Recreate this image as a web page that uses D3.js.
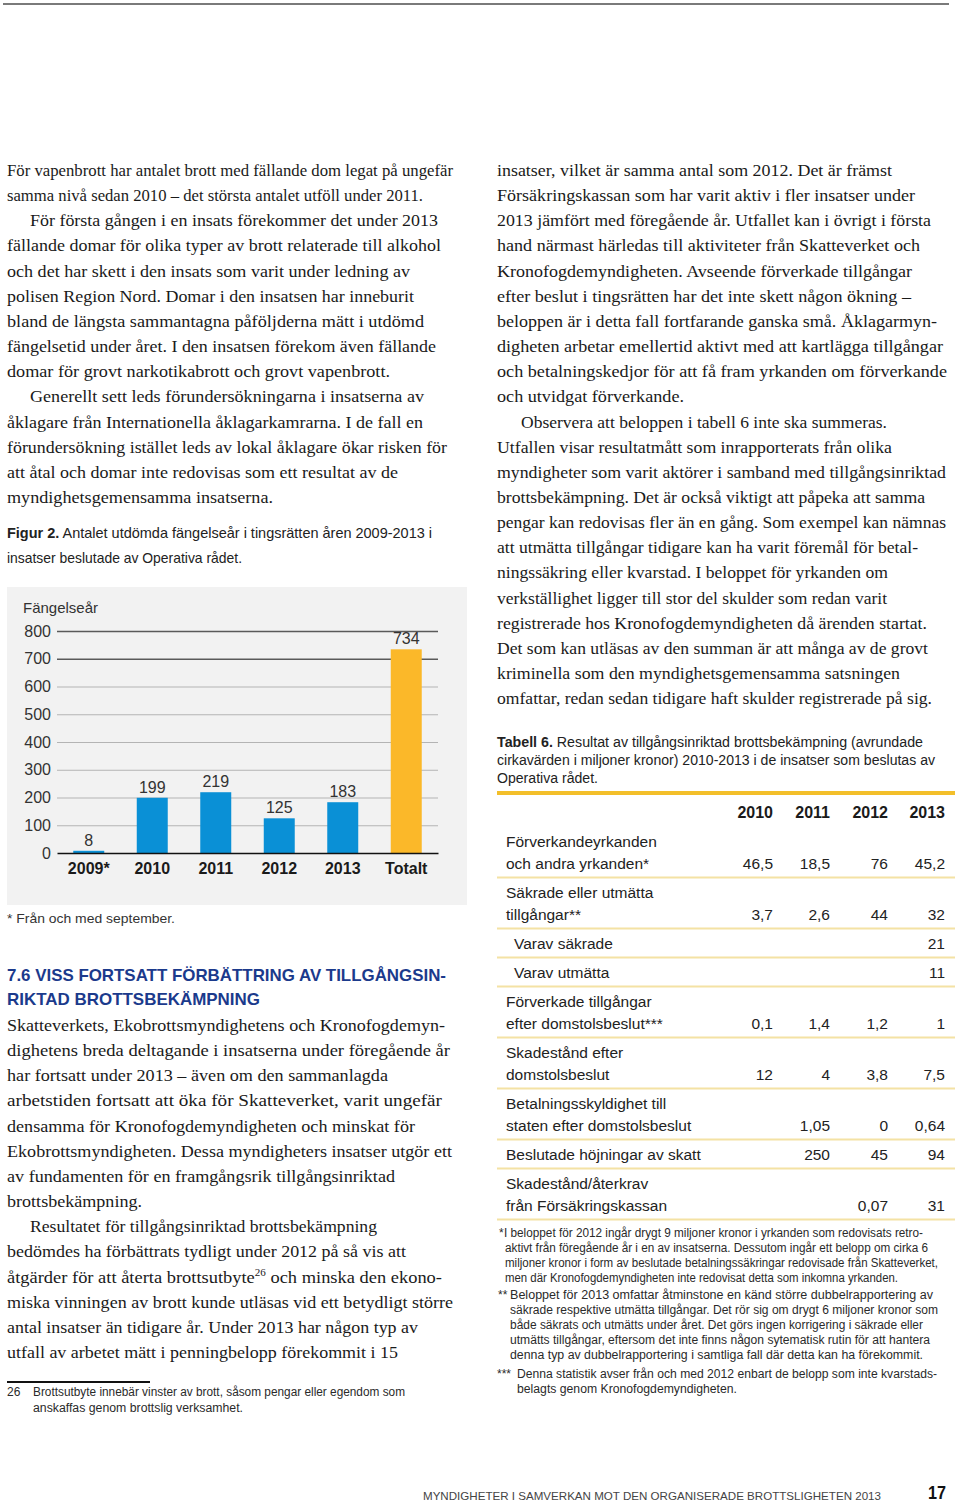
<!DOCTYPE html>
<html><head><meta charset="utf-8">
<script src="https://cdn.jsdelivr.net/npm/d3@7"></script>
<style>html,body{margin:0;padding:0;background:#fff}svg{display:block}</style>
</head><body>
<script>
// ---------------- chart data (Figur 2) ----------------
const categories = ["2009*", "2010", "2011", "2012", "2013", "Totalt"];
const values = [8, 199, 219, 125, 183, 734];
const yTicks = [0, 100, 200, 300, 400, 500, 600, 700, 800];
const yTitle = "Fängelseår";
const chartNote = "* Från och med september.";
const figCaption1 = "Antalet utdömda fängelseår i tingsrätten åren 2009-2013 i";
const figCaption2 = "insatser beslutade av Operativa rådet.";

// ---------------- table data (Tabell 6) ----------------
const tableYears = ["2010", "2011", "2012", "2013"];
const tableLabels = [
  ["Förverkandeyrkanden", "och andra yrkanden*"],
  ["Säkrade eller utmätta", "tillgångar**"],
  ["Varav säkrade"],
  ["Varav utmätta"],
  ["Förverkade tillgångar", "efter domstolsbeslut***"],
  ["Skadestånd efter", "domstolsbeslut"],
  ["Betalningsskyldighet till", "staten efter domstolsbeslut"],
  ["Beslutade höjningar av skatt"],
  ["Skadestånd/återkrav", "från Försäkringskassan"]
];
const tableValues = [
  ["46,5", "18,5", "76", "45,2"],
  ["3,7", "2,6", "44", "32"],
  ["", "", "", "21"],
  ["", "", "", "11"],
  ["0,1", "1,4", "1,2", "1"],
  ["12", "4", "3,8", "7,5"],
  ["", "1,05", "0", "0,64"],
  ["", "250", "45", "94"],
  ["", "", "0,07", "31"]
];
const tableSubRow = [false, false, true, true, false, false, false, false, false];

// ---------------- page text ----------------
const SERIF = "'Liberation Serif','Times New Roman',serif";
const SANS = "'Liberation Sans',Arial,Helvetica,sans-serif";

const leftTop = [
  ["För vapenbrott har antalet brott med fällande dom legat på ungefär", 7, 453],
  ["samma nivå sedan 2010 – det största antalet utföll under 2011.", 7, 423],
  ["För första gången i en insats förekommer det under 2013", 30, 438],
  ["fällande domar för olika typer av brott relaterade till alkohol", 7, 441],
  ["och det har skett i den insats som varit under ledning av", 7, 410],
  ["polisen Region Nord. Domar i den insatsen har inneburit", 7, 414],
  ["bland de längsta sammantagna påföljderna mätt i utdömd", 7, 424],
  ["fängelsetid under året. I den insatsen förekom även fällande", 7, 436],
  ["domar för grovt narkotikabrott och grovt vapenbrott.", 7, 390],
  ["Generellt sett leds förundersökningarna i insatserna av", 30, 424],
  ["åklagare från Internationella åklagarkamrarna. I de fall en", 7, 423],
  ["förundersökning istället leds av lokal åklagare ökar risken för", 7, 447],
  ["att åtal och domar inte redovisas som ett resultat av de", 7, 398],
  ["myndighetsgemensamma insatserna.", 7, 273]
];
const leftBottom = [
  ["Skatteverkets, Ekobrottsmyndighetens och Kronofogdemyn-", 7, 445],
  ["dighetens breda deltagande i insatserna under föregående år", 7, 450],
  ["har fortsatt under 2013 – även om den sammanlagda", 7, 388],
  ["arbetstiden fortsatt att öka för Skatteverket, varit ungefär", 7, 442],
  ["densamma för Kronofogdemyndigheten och minskat för", 7, 415],
  ["Ekobrottsmyndigheten. Dessa myndigheters insatser utgör ett", 7, 452],
  ["av fundamenten för en framgångsrik tillgångsinriktad", 7, 395],
  ["brottsbekämpning.", 7, 142],
  ["Resultatet för tillgångsinriktad brottsbekämpning", 30, 377],
  ["bedömdes ha förbättrats tydligt under 2012 på så vis att", 7, 406],
  [[{t: "åtgärder för att återta brottsutbyte"}, {t: "26", sup: true}, {t: " och minska den ekono-"}], 7, 442],
  ["miska vinningen av brott kunde utläsas vid ett betydligt större", 7, 453],
  ["antal insatser än tidigare år. Under 2013 har någon typ av", 7, 418],
  ["utfall av arbetet mätt i penningbelopp förekommit i 15", 7, 398]
];
const rightTop = [
  ["insatser, vilket är samma antal som 2012. Det är främst", 497, 892],
  ["Försäkringskassan som har varit aktiv i fler insatser under", 497, 915],
  ["2013 jämfört med föregående år. Utfallet kan i övrigt i första", 497, 931],
  ["hand närmast härledas till aktiviteter från Skatteverket och", 497, 920],
  ["Kronofogdemyndigheten. Avseende förverkade tillgångar", 497, 912],
  ["efter beslut i tingsrätten har det inte skett någon ökning –", 497, 911],
  ["beloppen är i detta fall fortfarande ganska små. Åklagarmyn-", 497, 937],
  ["digheten arbetar emellertid aktivt med att kartlägga tillgångar", 497, 943],
  ["och betalningskedjor för att få fram yrkanden om förverkande", 497, 947],
  ["och utvidgat förverkande.", 497, 684],
  ["Observera att beloppen i tabell 6 inte ska summeras.", 521, 887],
  ["Utfallen visar resultatmått som inrapporterats från olika", 497, 892],
  ["myndigheter som varit aktörer i samband med tillgångsinriktad", 497, 946],
  ["brottsbekämpning. Det är också viktigt att påpeka att samma", 497, 925],
  ["pengar kan redovisas fler än en gång. Som exempel kan nämnas", 497, 946],
  ["att utmätta tillgångar tidigare kan ha varit föremål för betal-", 497, 918],
  ["ningssäkring eller kvarstad. I beloppet för yrkanden om", 497, 888],
  ["verkställighet ligger till stor del skulder som redan varit", 497, 887],
  ["registrerade hos Kronofogdemyndigheten då ärenden startat.", 497, 927],
  ["Det som kan utläsas av den summan är att många av de grovt", 497, 928],
  ["kriminella som den myndighetsgemensamma satsningen", 497, 900],
  ["omfattar, redan sedan tidigare haft skulder registrerade på sig.", 497, 932]
];
const headingLines = [
  ["7.6 VISS FORTSATT FÖRBÄTTRING AV TILLGÅNGSIN-", 7, 446, 981],
  ["RIKTAD BROTTSBEKÄMPNING", 7, 260, 1005]
];
const tableCaption = [
  [[{t: "Tabell 6.", b: true}, {t: " Resultat av tillgångsinriktad brottsbekämpning (avrundade"}], 497, 923, 747],
  ["cirkavärden i miljoner kronor) 2010-2013 i de insatser som beslutas av", 497, 935, 765],
  ["Operativa rådet.", 497, 598, 783]
];
const tableNotes = [
  ["*", 499, null, 1237],
  ["I beloppet för 2012 ingår drygt 9 miljoner kronor i yrkanden som redovisats retro-", 504, 923, 1237],
  ["aktivt från föregående år i en av insatserna. Dessutom ingår ett belopp om cirka 6", 505, 928, 1252],
  ["miljoner kronor i form av beslutade betalningssäkringar redovisade från Skatteverket,", 505, 938, 1267],
  ["men där Kronofogdemyndigheten inte redovisat detta som inkomna yrkanden.", 505, 898, 1282],
  ["**", 498, null, 1299],
  ["Beloppet för 2013 omfattar åtminstone en känd större dubbelrapportering av", 510, 933, 1299],
  ["säkrade respektive utmätta tillgångar. Det rör sig om drygt 6 miljoner kronor som", 510, 938, 1314],
  ["både säkrats och utmätts under året. Det görs ingen korrigering i säkrade eller", 510, 923, 1329],
  ["utmätts tillgångar, eftersom det inte finns någon sytematisk rutin för att hantera", 510, 930, 1344],
  ["denna typ av dubbelrapportering i samtliga fall där detta kan ha förekommit.", 510, 923, 1359],
  ["***", 497, null, 1378],
  ["Denna statistik avser från och med 2012 enbart de belopp som inte kvarstads-", 517, 937, 1378],
  ["belagts genom Kronofogdemyndigheten.", 517, 737, 1393]
];
const footnote26 = [
  ["26", 7, null, 1396],
  ["Brottsutbyte innebär vinster av brott, såsom pengar eller egendom som", 33, 405, 1396],
  ["anskaffas genom brottslig verksamhet.", 33, 243, 1412]
];
const footerText = "MYNDIGHETER I SAMVERKAN MOT DEN ORGANISERADE BROTTSLIGHETEN 2013";
const pageNumber = "17";

// ---------------- drawing helpers ----------------
const W = 960, H = 1504;
const svg = d3.select("body").append("svg").attr("width", W).attr("height", H)
  .attr("viewBox", `0 0 ${W} ${H}`);

function addLine(g, content, x, end, y, opt) {
  const t = g.append("text").attr("x", x).attr("y", y)
    .attr("font-family", opt.family).attr("font-size", opt.size)
    .attr("font-weight", opt.weight || "normal").attr("fill", opt.fill || "#1a1a1a");
  if (typeof content === "string") {
    t.text(content);
  } else {
    let shifted = false;
    content.forEach(s => {
      const ts = t.append("tspan").text(s.t);
      if (s.b) ts.attr("font-weight", "bold");
      if (s.sup) { ts.attr("font-size", opt.size * 0.6).attr("dy", -opt.size * 0.38); shifted = true; }
      else if (shifted) { ts.attr("dy", opt.size * 0.38); shifted = false; }
    });
  }
  if (end != null) t.attr("textLength", end - x).attr("lengthAdjust", "spacingAndGlyphs");
  return t;
}
function block(lines, y0, step, opt) {
  const g = svg.append("g");
  lines.forEach((l, i) => addLine(g, l[0], l[1], l[2], y0 + i * step, opt));
}
function positioned(lines, opt) {
  const g = svg.append("g");
  lines.forEach(l => addLine(g, l[0], l[1], l[2], l[3], opt));
}

// top rule
svg.append("line").attr("x1", 3).attr("x2", 949).attr("y1", 4).attr("y2", 4)
  .attr("stroke", "#7a7a7a").attr("stroke-width", 2);

const body = {family: SERIF, size: 16.5, fill: "#1a1a1a"};
block(leftTop, 176, 25.15, body);
block(leftBottom, 1031, 25.15, body);
block(rightTop, 176, 25.15, body);

positioned(headingLines, {family: SANS, size: 17, weight: "bold", fill: "#1b3a8c"});

// figure caption
positioned([
  [[{t: "Figur 2.", b: true}, {t: " " + figCaption1}], 7, 432, 538],
  [figCaption2, 7, 242, 563]
], {family: SANS, size: 14.5, fill: "#222"});

// ---------------- chart ----------------
const chart = svg.append("g");
chart.append("rect").attr("x", 7).attr("y", 587).attr("width", 460).attr("height", 318)
  .attr("fill", "#f2f2f2");

const plotL = 57, plotR = 438;
const x = d3.scaleBand().domain(categories).range([plotL, plotR])
  .paddingInner(0.512).paddingOuter(0.256);
const y = d3.scaleLinear().domain([0, 800]).range([853, 631]);

chart.append("text").attr("x", 23).attr("y", 613).text(yTitle)
  .attr("font-family", SANS).attr("font-size", 15).attr("fill", "#333");

const yAxis = chart.append("g").attr("transform", `translate(${plotL},0)`)
  .call(d3.axisLeft(y).tickValues(yTicks).tickSize(-(plotR - plotL)).tickPadding(6).tickFormat(d3.format("d")));
yAxis.select(".domain").remove();
yAxis.selectAll(".tick line")
  .attr("stroke", d => d >= 700 ? "#5a5a5a" : "#b4b4b4")
  .attr("stroke-width", d => d >= 700 ? 1.3 : 1)
  .attr("stroke-opacity", d => d === 0 ? 0 : 1);
yAxis.selectAll(".tick text").attr("font-family", SANS).attr("font-size", 16).attr("fill", "#333");

chart.append("g").selectAll("rect").data(values).join("rect")
  .attr("x", (d, i) => x(categories[i]))
  .attr("width", x.bandwidth())
  .attr("y", d => y(d))
  .attr("height", d => y(0) - y(d))
  .attr("fill", (d, i) => categories[i] === "Totalt" ? "#fbb829" : "#0a90d6");

chart.append("g").selectAll("text").data(values).join("text")
  .attr("x", (d, i) => x(categories[i]) + x.bandwidth() / 2)
  .attr("y", d => y(d) - 5)
  .attr("text-anchor", "middle")
  .attr("font-family", SANS).attr("font-size", 16).attr("fill", "#333")
  .text(d => d);

const xAxis = chart.append("g").attr("transform", `translate(0,${y(0)})`)
  .call(d3.axisBottom(x).tickSize(0).tickPadding(10));
xAxis.select(".domain").attr("stroke", "#111").attr("stroke-width", 1.6);
xAxis.selectAll(".tick text").attr("font-family", SANS).attr("font-size", 16)
  .attr("font-weight", "bold").attr("fill", "#1a1a1a");

chart.append("text").attr("x", 7).attr("y", 923).text(chartNote)
  .attr("font-family", SANS).attr("font-size", 13.5).attr("fill", "#333")
  .attr("textLength", 168).attr("lengthAdjust", "spacingAndGlyphs");

// ---------------- table ----------------
positioned(tableCaption, {family: SANS, size: 14, fill: "#222"});

const tbl = svg.append("g");
const colRight = [773, 830, 888, 945];
const tL = 497, tR = 955;
tbl.append("line").attr("x1", tL).attr("x2", tR).attr("y1", 793).attr("y2", 793)
  .attr("stroke", "#f3bf2a").attr("stroke-width", 4);
tableYears.forEach((yr, j) => {
  tbl.append("text").attr("x", colRight[j]).attr("y", 818).attr("text-anchor", "end")
    .attr("font-family", SANS).attr("font-size", 16).attr("font-weight", "bold").attr("fill", "#1a1a1a")
    .text(yr);
});
let cy = 841;
const lineStep = 22, gap = 14.5;
tableLabels.forEach((lab, i) => {
  lab.forEach((s, k) => {
    tbl.append("text").attr("x", tableSubRow[i] ? 514 : 506).attr("y", cy + k * lineStep + 5.5)
      .attr("font-family", SANS).attr("font-size", 15.5).attr("fill", "#222").text(s);
  });
  const last = cy + (lab.length - 1) * lineStep;
  tableValues[i].forEach((v, j) => {
    if (!v) return;
    tbl.append("text").attr("x", colRight[j]).attr("y", last + 5.5).attr("text-anchor", "end")
      .attr("font-family", SANS).attr("font-size", 15.5).attr("fill", "#222").text(v);
  });
  const sep = last + gap;
  tbl.append("line").attr("x1", tL).attr("x2", tR).attr("y1", sep).attr("y2", sep)
    .attr("stroke", "#f4e2a4").attr("stroke-width", 2);
  cy = sep + gap;
});

positioned(tableNotes, {family: SANS, size: 12, fill: "#2a2a2a"});

// footnote 26
svg.append("line").attr("x1", 7).attr("x2", 150).attr("y1", 1382).attr("y2", 1382)
  .attr("stroke", "#111").attr("stroke-width", 2);
positioned(footnote26, {family: SANS, size: 12, fill: "#2a2a2a"});

// footer
addLine(svg, footerText, 423, 881, 1500, {family: SANS, size: 11.5, fill: "#444"});
addLine(svg, pageNumber, 928, 946, 1499, {family: SANS, size: 17.5, weight: "bold", fill: "#111"});
</script>
</body></html>
